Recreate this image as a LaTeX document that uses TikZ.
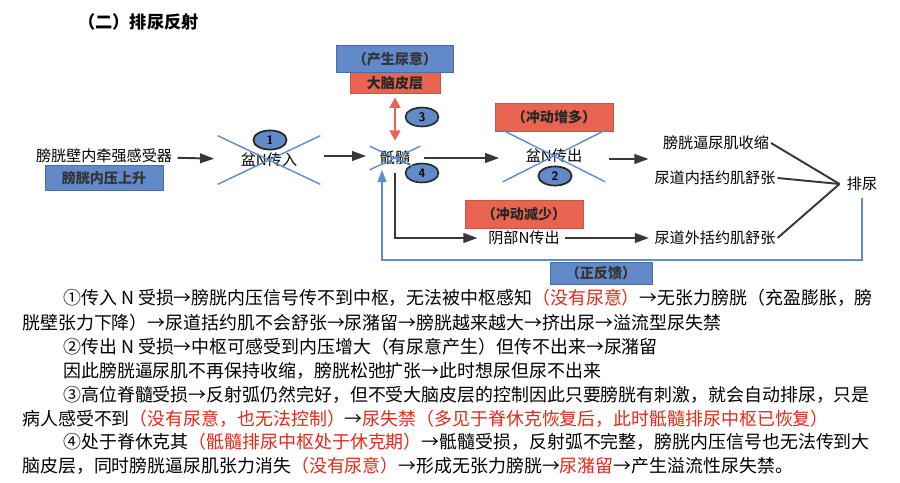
\documentclass[tikz,border=0pt]{standalone}
\usepackage{fontspec}
\newfontfamily\cjk{Noto Sans CJK SC}
\usetikzlibrary{arrows.meta,shapes.geometric,positioning,calc}
\definecolor{boxblue}{RGB}{98,138,201}
\definecolor{boxblueline}{RGB}{72,108,172}
\definecolor{boxred}{RGB}{232,100,80}
\definecolor{crossblue}{RGB}{95,140,208}
\definecolor{arrred}{RGB}{236,98,86}
\definecolor{txtred}{RGB}{228,40,24}
\definecolor{arrgray}{RGB}{55,55,55}
\newcommand{\redtxt}[1]{\textcolor{txtred}{#1}}

\begin{document}
\begin{tikzpicture}[x=0.02cm, y=-0.02cm,
    lab/.style={font=\cjk\fontsize{8.6}{10}\selectfont, inner sep=1pt},
    bbox/.style={draw=boxblueline, fill=boxblue, font=\cjk\bfseries\fontsize{8}{10}\selectfont, text=black!80, inner sep=0pt},
    rbox/.style={draw=boxred!85!black, fill=boxred, font=\cjk\bfseries\fontsize{8}{10}\selectfont, text=black!85, inner sep=0pt},
    num/.style={draw=black!85, line width=0.9pt, ellipse, fill=boxblue, minimum width=0.66cm, minimum height=0.38cm, inner sep=0pt, font=\sffamily\bfseries\scriptsize},
    xnode/.style={lab, inner sep=0pt},
    cross/.style={draw=crossblue, line width=0.8pt},
    arr/.style={-{Triangle[length=8pt,width=5.5pt]}, line width=1.1pt, draw=arrgray, shorten <=2pt, shorten >=2pt},
    ln/.style={line width=1.1pt, draw=arrgray},
    fb/.style={-{Triangle[length=7pt,width=5pt]}, line width=0.8pt, draw=crossblue},
    para/.style={anchor=west, inner sep=0pt, font=\cjk\fontsize{10.2}{12}\selectfont}
]
\useasboundingbox (0,0) rectangle (900,483);

\node[anchor=west, font=\cjk\bfseries\fontsize{9.8}{12}\selectfont] (ttl) at (72,22) {（二）排尿反射};

\node[lab] (recep) at (104,156) {膀胱壁内牵强感受器};
\node[bbox, minimum width=2.36cm, minimum height=0.5cm] (press) at (104,178) {膀胱内压上升};
\node[xnode, minimum width=2.04cm, minimum height=0.96cm] (pelvin) at (269,160) {盆N传入};
\node[num] (n1) at (270,140) {1};
\node[xnode, minimum width=1.0cm, minimum height=0.46cm] (sacral) at (395,158) {骶髓};
\node[rbox, minimum width=1.8cm, minimum height=0.42cm] (cortex) at (395,83) {大脑皮层};
\node[bbox, minimum width=2.34cm, minimum height=0.54cm] (urge) at (395,59) {（产生尿意）};
\node[num] (n3) at (422,117) {3};
\node[num] (n4) at (422,173) {4};
\node[xnode, minimum width=2.04cm, minimum height=1.02cm] (pelvout) at (554,156) {盆N传出};
\node[rbox, minimum width=2.36cm, minimum height=0.56cm] (more) at (554,117) {（冲动增多）};
\node[num] (n2) at (555,176) {2};
\node[lab] (pudout) at (524,238) {阴部N传出};
\node[rbox, minimum width=2.36cm, minimum height=0.56cm] (less) at (524,214) {（冲动减少）};
\node[lab] (detr) at (716,143) {膀胱逼尿肌收缩};
\node[lab] (inner) at (715,178) {尿道内括约肌舒张};
\node[lab] (outer) at (715,238) {尿道外括约肌舒张};
\node[lab, inner sep=4pt] (mict) at (862,184) {排尿};
\coordinate (efc) at (652,159);
\coordinate (fbl) at (382,260);

\draw[cross] (pelvin.north west) -- (pelvin.south east) (pelvin.north east) -- (pelvin.south west);
\draw[cross] (sacral.north west) -- (sacral.south east) (sacral.north east) -- (sacral.south west);
\draw[cross] (pelvout.north west) -- (pelvout.south east) (pelvout.north east) -- (pelvout.south west);
\node[num] at (n1) {1};
\node[num] at (n2) {2};

\draw[arr] (recep) -- (pelvin);
\draw[arr] (pelvin.east |- recep) -- (sacral.west |- recep);
\draw[arr] (sacral.east) -- (sacral.east -| pelvout.west);
\draw[arr] (pelvout.east |- efc) -- (efc);
\draw[arr, shorten >=5pt] (sacral.south) |- (pudout.west);
\draw[arr] (pudout) -- (outer);
\draw[ln] (detr.east) -- (mict.west);
\draw[ln] (inner.east) -- (mict.west);
\draw[ln] (outer.east) -- (mict.west);
\draw[{Triangle[length=6pt,width=6pt]}-{Triangle[length=6pt,width=6pt]}, line width=1.6pt, draw=arrred, shorten <=2pt, shorten >=3pt] (cortex.south) -- (sacral.north);
\draw[fb] (mict.south) |- (fbl) -- (fbl |- sacral.south);
\node[bbox, minimum width=2.04cm, minimum height=0.44cm] (posfb) at (601,273) {（正反馈）};

\node[para] (l1) at (63,298) {①传入 N 受损→膀胱内压信号传不到中枢，无法被中枢感知\redtxt{（没有尿意）}→无张力膀胱（充盈膨胀，膀};
\node[para] (l2) at (22,323) {胱壁张力下降）→尿道括约肌不会舒张→尿潴留→膀胱越来越大→挤出尿→溢流型尿失禁};
\node[para] (l3) at (63,347) {②传出 N 受损→中枢可感受到内压增大（有尿意产生）但传不出来→尿潴留};
\node[para] (l4) at (63,371) {因此膀胱逼尿肌不再保持收缩，膀胱松弛扩张→此时想尿但尿不出来};
\node[para] (l5) at (63,395) {③高位脊髓受损→反射弧仍然完好，但不受大脑皮层的控制因此只要膀胱有刺激，就会自动排尿，只是};
\node[para] (l6) at (22,419) {病人感受不到\redtxt{（没有尿意，也无法控制）}→\redtxt{尿失禁（多见于脊休克恢复后，此时骶髓排尿中枢已恢复）}};
\node[para] (l7) at (63,442) {④处于脊休克其\redtxt{（骶髓排尿中枢处于休克期）}→骶髓受损，反射弧不完整，膀胱内压信号也无法传到大};
\node[para] (l8) at (22,466) {脑皮层，同时膀胱逼尿肌张力消失\redtxt{（没有尿意）}→形成无张力膀胱→\redtxt{尿潴留}→产生溢流性尿失禁。};
\end{tikzpicture}
\end{document}
